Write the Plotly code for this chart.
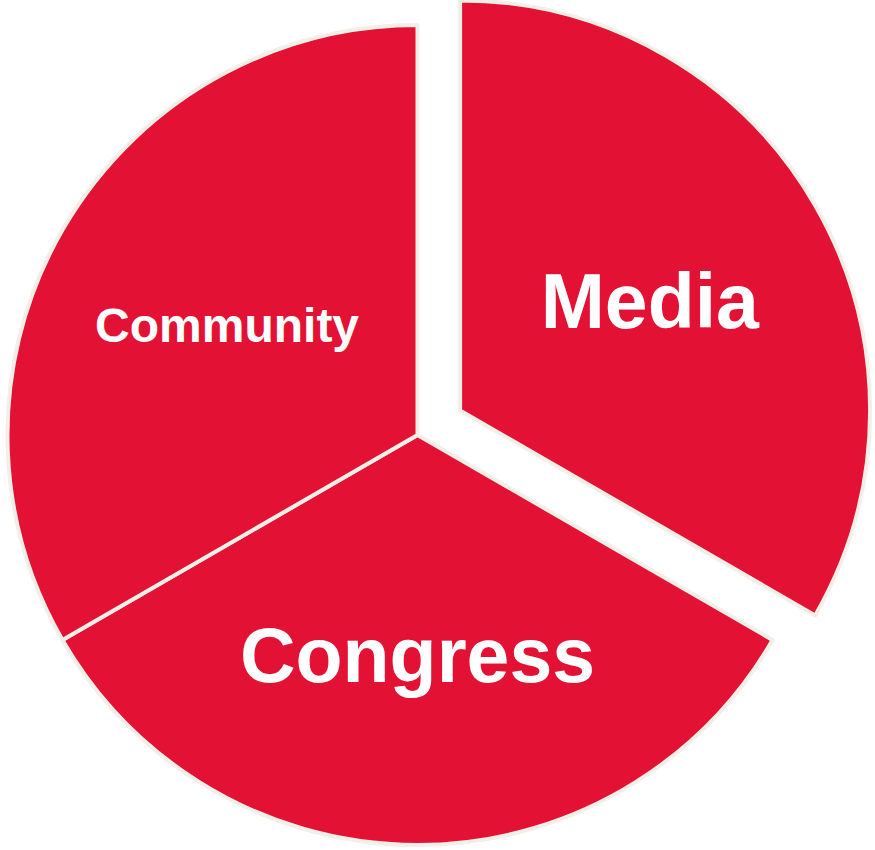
import math
import plotly.graph_objects as go

# Data
labels = ["Media", "Congress", "Community"]
values = [1, 1, 1]
font_sizes = [77, 77, 48]

# Style / layout
W, H = 875, 850
CX, CY, R = 417.5, 435, 410        # pie centre (px from top-left) and radius
PULL = 0.12                        # how far Media is pulled out (fraction of R)
RED = "#E31134"
EDGE = "#F2EFE8"
CLEAR = "rgba(0,0,0,0)"

def domain(cx, cy):
    clamp = lambda v: max(0.0, min(1.0, v))
    return dict(x=[clamp((cx - R) / W), clamp((cx + R) / W)],
                y=[clamp((H - cy - R) / H), clamp((H - cy + R) / H)])

# Media bisector sits at 60 deg clockwise from 12 o'clock
ang = math.radians(60)
dx = R * PULL * math.sin(ang)
dy = -R * PULL * math.cos(ang)

common = dict(labels=labels, values=values, sort=False, direction="clockwise",
              rotation=0, textinfo="text", textposition="inside",
              insidetextorientation="horizontal", hoverinfo="skip",
              showlegend=False)

fig = go.Figure()
# Congress + Community (Media hidden)
fig.add_trace(go.Pie(
    **common,
    domain=domain(CX, CY),
    text=["", labels[1], labels[2]],
    marker=dict(colors=[CLEAR, RED, RED],
                line=dict(color=[CLEAR, EDGE, EDGE], width=[0, 4, 4])),
    textfont=dict(family="Liberation Sans, Arial", size=font_sizes,
                  color="white", weight="bold"),
))
# Media pulled out (others hidden)
fig.add_trace(go.Pie(
    **common,
    domain=domain(CX + dx, CY + dy),
    text=[labels[0], "", ""],
    marker=dict(colors=[RED, CLEAR, CLEAR],
                line=dict(color=[EDGE, CLEAR, CLEAR], width=[4, 0, 0])),
    textfont=dict(family="Liberation Sans, Arial", size=font_sizes,
                  color="white", weight="bold"),
))

fig.update_layout(width=W, height=H, margin=dict(l=0, r=0, t=0, b=0),
                  paper_bgcolor="white", plot_bgcolor="white")
fig.write_html("out.html", config={"displayModeBar": False},
               post_script="document.body.style.margin='0';")
